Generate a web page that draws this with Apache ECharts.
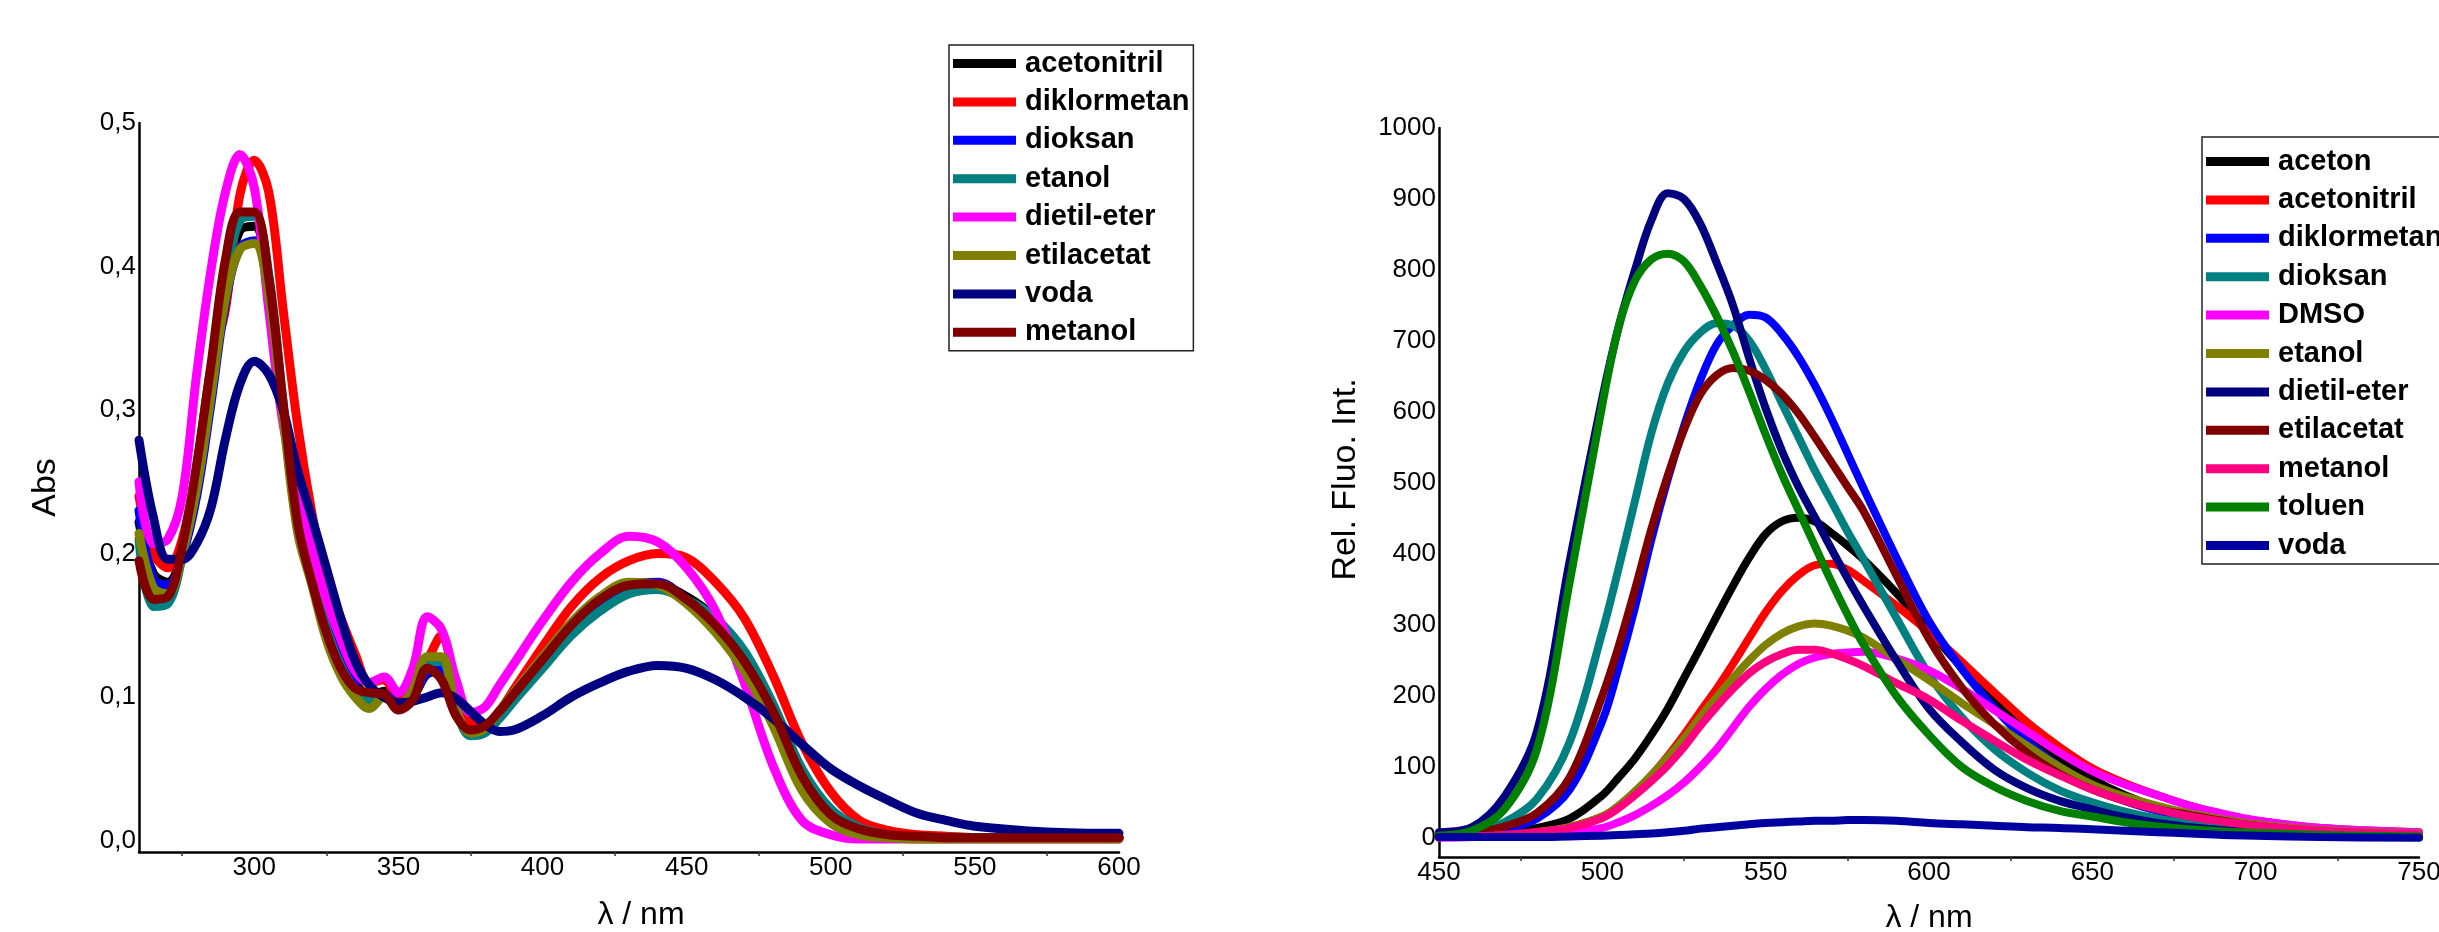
<!DOCTYPE html>
<html>
<head>
<meta charset="utf-8">
<script src="https://cdn.jsdelivr.net/npm/echarts@6/dist/echarts.min.js"></script>
<style>
html,body{margin:0;padding:0;background:#ffffff;}
#c{width:2439px;height:932px;}
</style>
</head>
<body>
<div id="c"></div>
<script>
// ---------- Left panel: absorption ----------
const absWavelength = [260,265,270,275,280,285,290,295,300,305,310,315,320,325,330,335,340,345,350,355,360,365,370,375,380,385,390,400,410,420,430,440,450,460,470,480,490,500,510,520,530,540,550,575,600];
const absNames  = ['acetonitril','diklormetan','dioksan','etanol','dietil-eter','etilacetat','voda','metanol'];
const absColors = ['#000000','#FF0000','#0000FF','#008080','#FF00FF','#808000','#000080','#800000'];
const absAcetonitril = [.222,.186,.180,.200,.245,.315,.385,.425,.428,.385,.300,.218,.182,.150,.125,.110,.100,.104,.097,.101,.116,.118,.090,.076,.079,.089,.101,.124,.147,.165,.176,.178,.170,.155,.130,.092,.046,.018,.007,.003,.002,.002,.002,.002,.002];
const absDiklormetan = [.240,.200,.190,.210,.260,.330,.370,.450,.474,.452,.370,.290,.228,.180,.155,.130,.110,.112,.100,.105,.125,.143,.105,.082,.080,.090,.105,.135,.163,.183,.195,.200,.197,.180,.155,.115,.068,.034,.014,.007,.004,.003,.002,.002,.002];
const absDioksan = [.230,.182,.178,.198,.240,.305,.375,.413,.418,.382,.300,.220,.183,.150,.125,.108,.098,.102,.095,.100,.117,.120,.090,.075,.078,.088,.100,.123,.147,.165,.178,.180,.168,.152,.127,.090,.045,.017,.006,.003,.002,.002,.002,.002,.002];
const absEtanol = [.210,.163,.165,.198,.250,.320,.392,.432,.435,.395,.305,.222,.183,.148,.122,.105,.097,.100,.093,.100,.122,.125,.092,.073,.075,.085,.097,.120,.143,.160,.172,.175,.168,.155,.132,.095,.050,.022,.009,.004,.002,.002,.002,.002,.002];
const absDietilEter = [.250,.207,.210,.240,.325,.398,.452,.478,.455,.370,.290,.245,.203,.168,.140,.118,.110,.114,.103,.120,.156,.147,.112,.089,.093,.108,.123,.153,.180,.200,.212,.208,.190,.160,.110,.052,.014,.004,.001,.001,.001,.001,.001,.001,.001];
const absEtilacetat = [.214,.176,.172,.200,.245,.310,.378,.412,.416,.380,.295,.215,.178,.140,.115,.100,.092,.100,.094,.105,.128,.128,.092,.075,.078,.090,.103,.128,.152,.170,.180,.178,.165,.145,.118,.080,.035,.012,.004,.002,.001,.001,.001,.001,.001];
const absVoda = [.279,.225,.196,.196,.207,.232,.280,.318,.334,.325,.300,.258,.225,.190,.155,.125,.108,.100,.096,.097,.100,.103,.099,.090,.081,.076,.077,.087,.100,.110,.118,.122,.120,.112,.100,.085,.067,.050,.038,.028,.019,.014,.010,.006,.005];
const absMetanol = [.195,.168,.170,.205,.262,.332,.405,.438,.438,.392,.305,.222,.180,.145,.120,.106,.103,.102,.091,.098,.120,.112,.087,.077,.080,.090,.102,.126,.150,.168,.178,.179,.168,.150,.125,.090,.045,.018,.008,.004,.003,.002,.002,.002,.002];
const absSeries = [absAcetonitril,absDiklormetan,absDioksan,absEtanol,absDietilEter,absEtilacetat,absVoda,absMetanol];
const absYTicks = [0,0.1,0.2,0.3,0.4,0.5];
const absXTicks = [300,350,400,450,500,550,600];
const absXMinorTicks = [275,325,375,425,475,525,575];

// ---------- Right panel: fluorescence ----------
const fluWavelength = [450,460,470,480,490,500,505,510,515,520,525,530,535,540,545,550,555,560,565,570,575,580,590,600,610,620,630,640,650,660,670,680,690,700,720,750];
const fluNames  = ['aceton','acetonitril','diklormetan','dioksan','DMSO','etanol','dietil-eter','etilacetat','metanol','toluen','voda'];
const fluColors = ['#000000','#FF0000','#0000FF','#008080','#FF00FF','#808000','#000080','#800000','#FF0080','#008000','#0000A0'];
const fluAceton = [1,3,7,14,27,60,85,112,145,182,225,268,312,355,395,428,446,451,446,430,412,392,345,292,240,192,150,113,83,60,43,31,22,16,8,3];
const fluAcetonitril = [1,2,4,8,15,30,45,65,88,115,145,178,210,245,282,318,348,370,384,386,378,362,327,290,248,205,163,128,98,77,60,45,33,24,14,8];
const fluDiklormetan = [2,5,12,27,68,165,240,325,420,505,580,645,695,722,737,733,710,678,638,592,542,492,395,305,238,183,136,100,72,52,38,28,20,14,7,3];
const fluDioksan = [3,8,22,55,135,290,380,475,570,640,685,712,725,722,700,660,612,565,518,475,432,392,310,230,170,125,92,67,50,37,27,20,14,10,6,3];
const fluDMSO = [0,1,2,4,8,14,22,32,45,60,78,100,125,155,185,210,230,245,254,259,261,262,253,236,210,180,150,120,94,75,60,45,34,25,14,8];
const fluEtanol = [1,2,4,8,15,30,45,65,88,113,140,170,198,225,250,272,288,298,302,299,292,282,252,222,190,160,130,100,75,58,45,34,26,19,11,6];
const fluDietilEter = [8,15,58,150,390,620,720,800,870,908,900,865,810,750,675,605,545,495,452,408,366,326,250,182,135,96,70,52,40,29,21,15,11,8,5,3];
const fluEtilacetat = [3,7,16,35,85,200,270,350,435,510,575,625,652,662,658,645,625,598,565,530,495,460,370,280,212,160,120,90,68,52,40,32,24,17,9,4];
const fluMetanol = [1,2,4,8,14,28,42,60,80,102,128,158,185,210,232,248,259,265,265,260,252,242,218,195,165,137,110,88,68,52,40,30,23,17,10,5];
const fluToluen = [3,10,40,125,360,610,720,785,815,823,812,778,735,685,628,568,512,462,412,362,315,272,200,145,100,72,52,38,30,22,16,12,9,7,4,2];
const fluVoda = [1,1,1,1,2,3,4,5,6,8,10,13,15,17,19,21,22,23,24,24,25,25,24,21,19,17,15,14,12,10,8,6,4,3,1,0];
const fluSeries = [fluAceton,fluAcetonitril,fluDiklormetan,fluDioksan,fluDMSO,fluEtanol,fluDietilEter,fluEtilacetat,fluMetanol,fluToluen,fluVoda];
const fluYTicks = [0,100,200,300,400,500,600,700,800,900,1000];
const fluXTicks = [450,500,550,600,650,700,750];
const fluXMinorTicks = [475,525,575,625,675,725];

const FONT = "'Liberation Sans', Arial, Helvetica, sans-serif";

function lineSeries(name, xs, ys, color, width, idx) {
  return {
    type: 'line', name: name, xAxisIndex: idx, yAxisIndex: idx,
    data: xs.map((x, i) => [x, ys[i]]),
    showSymbol: false, symbol: 'none', smooth: 0.35,
    lineStyle: { color: color, width: width, cap: 'round', join: 'round' },
    itemStyle: { color: color },
    emphasis: { disabled: true }, silent: true, clip: true
  };
}

function makeXAxis(idx, min, max, ticks, minor, name, nameGap, namePad) {
  return {
    gridIndex: idx, type: 'value', min: min, max: max,
    name: name, nameLocation: 'middle', nameGap: nameGap,
    nameTextStyle: { fontFamily: FONT, fontSize: 32, color: '#000', padding: namePad },
    axisLine: { show: true, onZero: false, lineStyle: { color: '#000', width: 2.5 } },
    axisTick: { show: true, customValues: minor, length: 4, inside: false, lineStyle: { color: '#333', width: 1.5 } },
    axisLabel: { customValues: ticks, fontFamily: FONT, fontSize: 26, color: '#000', margin: 3, showMinLabel: true, showMaxLabel: true },
    splitLine: { show: false }
  };
}

function makeYAxis(idx, min, max, ticks, name, fmt, namePad) {
  return {
    gridIndex: idx, type: 'value', min: min, max: max,
    name: name, nameLocation: 'middle', nameGap: 76, nameRotate: 90,
    nameTextStyle: { fontFamily: FONT, fontSize: 34, color: '#000', padding: namePad },
    axisLine: { show: true, onZero: false, lineStyle: { color: '#000', width: 2.5 } },
    axisTick: { show: false },
    axisLabel: { customValues: ticks, formatter: fmt, fontFamily: FONT, fontSize: 26, color: '#000', margin: 3 },
    splitLine: { show: false }
  };
}

function makeLegend(names, colors, left, top, pad) {
  return {
    orient: 'vertical', left: left, top: top,
    data: names.map((n, i) => ({ name: n, itemStyle: { color: colors[i], borderColor: colors[i], borderWidth: 0 } })),
    icon: 'rect', itemWidth: 63, itemHeight: 9, itemGap: 9.4,
    padding: pad, borderColor: '#222', borderWidth: 1.5, backgroundColor: '#fff',
    selectedMode: false,
    textStyle: { fontFamily: FONT, fontSize: 29, fontWeight: 'bold', color: '#000', padding: [0, 0, 0, 4] }
  };
}

const series = [];
absNames.forEach((n, i) => series.push(lineSeries(n, absWavelength, absSeries[i], absColors[i], 9, 0)));
fluNames.forEach((n, i) => series.push(lineSeries(n, fluWavelength, fluSeries[i], fluColors[i], 8, 1)));

const chart = echarts.init(document.getElementById('c'), null, { renderer: 'canvas' });
chart.setOption({
  animation: false,
  backgroundColor: '#ffffff',
  textStyle: { fontFamily: FONT },
  grid: [
    { left: 139, top: 123, width: 980, height: 729, containLabel: false, outerBoundsMode: 'none' },
    { left: 1439, top: 128, width: 980, height: 729, containLabel: false, outerBoundsMode: 'none' }
  ],
  xAxis: [
    makeXAxis(0, 260, 600, absXTicks, absXMinorTicks, 'λ / nm', 47, [0, 0, 0, 24]),
    makeXAxis(1, 450, 750, fluXTicks, fluXMinorTicks, 'λ / nm', 45, 0)
  ],
  yAxis: [
    makeYAxis(0, -0.008, 0.5, absYTicks, 'Abs', v => v.toFixed(1).replace('.', ','), 0),
    makeYAxis(1, -27, 1000, fluYTicks, 'Rel. Fluo. Int.', v => String(Math.round(v)), [0, 0, 0, 26])
  ],
  legend: [
    makeLegend(absNames, absColors, 949, 45, [4, 4, 4, 4]),
    makeLegend(fluNames, fluColors, 2202, 137, [10, 4, 4, 4])
  ],
  series: series
});
</script>
</body>
</html>
